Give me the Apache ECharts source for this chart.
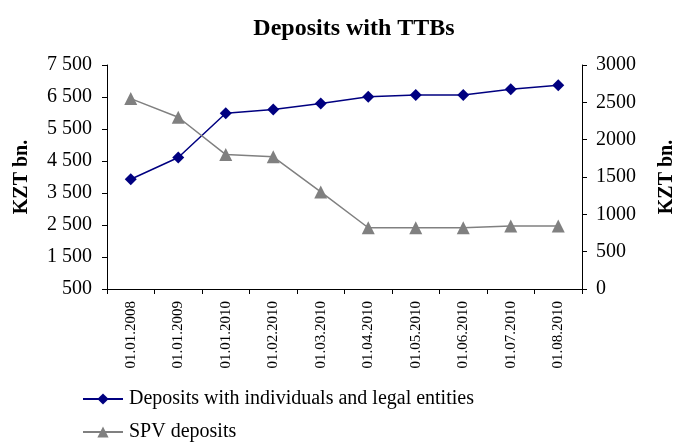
<!DOCTYPE html>
<html>
<head>
<meta charset="utf-8">
<script src="https://cdn.jsdelivr.net/npm/echarts@6/dist/echarts.min.js"></script>
<style>
  html, body { margin: 0; padding: 0; background: #fff; }
  #chart { width: 675px; height: 443px; }
</style>
</head>
<body>
<div id="chart"></div>
<script>
const categories = ["01.01.2008", "01.01.2009", "01.01.2010", "01.02.2010", "01.03.2010",
  "01.04.2010", "01.05.2010", "01.06.2010", "01.07.2010", "01.08.2010"];
// left axis, KZT bn.
const depositsIndividuals = [3930, 4610, 5990, 6110, 6300, 6510, 6560, 6560, 6740, 6870];
// right axis, KZT bn.
const spvDeposits = [2550, 2300, 1800, 1770, 1300, 820, 820, 820, 845, 845];
const leftTicks = [500, 1500, 2500, 3500, 4500, 5500, 6500, 7500];

const font = "Liberation Serif";
const chart = echarts.init(document.getElementById("chart"));

// "7 500" style
const fmtSpace = (v) => String(v).replace(/\B(?=(\d{3})+(?!\d))/g, " ");

const legendCommon = {
  left: 82,
  padding: 0,
  itemWidth: 40,
  itemHeight: 14,
  itemGap: 0,
  textStyle: { fontFamily: font, fontSize: 20, color: "#000", padding: [0, 0, 0, 1] },
};

chart.setOption({
  animation: false,
  textStyle: { fontFamily: font, color: "#000" },
  title: {
    text: "Deposits with TTBs",
    left: 349,
    textAlign: "center",
    top: 12,
    textStyle: { fontFamily: font, fontSize: 24, fontWeight: "bold", color: "#000" },
  },
  grid: { left: 107, right: 93, top: 65, bottom: 154, outerBoundsMode: "none", containLabel: false },
  legend: [
    Object.assign({}, legendCommon, { top: 389, data: ["Deposits with individuals and legal entities"] }),
    Object.assign({}, legendCommon, { top: 422, data: ["SPV deposits"] }),
  ],
  xAxis: {
    type: "category",
    data: categories,
    boundaryGap: true,
    axisLine: { lineStyle: { color: "#000", width: 1 } },
    axisTick: { show: true, alignWithLabel: false, length: 5, lineStyle: { color: "#000" } },
    axisLabel: { rotate: 90, fontSize: 15, margin: 12, color: "#000", fontFamily: font, interval: 0 },
    splitLine: { show: false },
  },
  yAxis: [
    {
      type: "value",
      min: 500,
      max: 7500,
      position: "left",
      name: "KZT bn.",
      nameLocation: "middle",
      nameRotate: 90,
      nameGap: 75,
      nameTextStyle: { fontFamily: font, fontSize: 20, fontWeight: "bold", color: "#000" },
      axisLine: { show: true, lineStyle: { color: "#000" } },
      axisTick: { show: true, length: 5, customValues: leftTicks, lineStyle: { color: "#000" } },
      axisLabel: {
        customValues: leftTicks,
        formatter: fmtSpace,
        fontSize: 20,
        margin: 15,
        color: "#000",
        fontFamily: font,
      },
      splitLine: { show: false },
    },
    {
      type: "value",
      min: 0,
      max: 3000,
      interval: 500,
      position: "right",
      name: "KZT bn.",
      nameLocation: "middle",
      nameRotate: 90,
      nameGap: 75,
      nameTextStyle: { fontFamily: font, fontSize: 20, fontWeight: "bold", color: "#000" },
      axisLine: { show: true, lineStyle: { color: "#000" } },
      axisTick: { show: true, length: 5, lineStyle: { color: "#000" } },
      axisLabel: { formatter: (v) => String(v), fontSize: 20, margin: 14, color: "#000", fontFamily: font },
      splitLine: { show: false },
    },
  ],
  series: [
    {
      name: "Deposits with individuals and legal entities",
      type: "line",
      yAxisIndex: 0,
      data: depositsIndividuals,
      symbol: "diamond",
      symbolSize: 12,
      lineStyle: { color: "#000080", width: 1.5 },
      itemStyle: { color: "#000080" },
    },
    {
      name: "SPV deposits",
      type: "line",
      yAxisIndex: 1,
      data: spvDeposits,
      symbol: "triangle",
      symbolSize: 13,
      lineStyle: { color: "#808080", width: 1.5 },
      itemStyle: { color: "#808080" },
    },
  ],
});
</script>
</body>
</html>
